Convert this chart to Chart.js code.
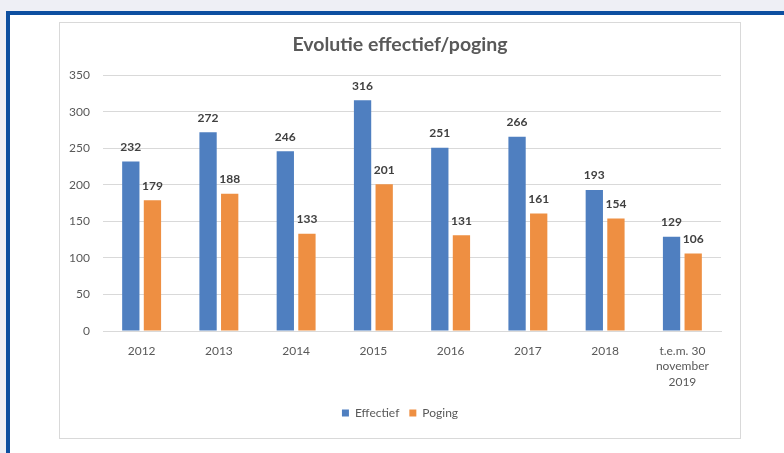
<!DOCTYPE html>
<html>
<head>
<meta charset="utf-8">
<script src="https://cdn.jsdelivr.net/npm/chart.js@4"></script>
<style>
  html, body { margin:0; padding:0; }
  body { width:784px; height:453px; background:#eeeff5; position:relative; overflow:hidden; font-family:Lato, sans-serif; }
  #frame { position:absolute; left:6px; top:11px; right:-10px; bottom:-10px; background:#fff;
           border-top:4px solid #0d4fa0; border-left:4px solid #0d4fa0; }
  #box { position:absolute; left:59px; top:22px; width:680px; height:415px; border:1px solid #d9d9d9; background:#fff; }
  #chart { display:block; }
</style>
</head>
<body>
<div id="frame"></div>
<div id="box"><canvas id="chart" width="680" height="415"></canvas></div>
<script>
const categories = ['2012','2013','2014','2015','2016','2017','2018',['t.e.m. 30','november','2019']];
const effectief = [232, 272, 246, 316, 251, 266, 193, 129];
const poging = [179, 188, 133, 201, 131, 161, 154, 106];
const seriesNames = ['Effectief', 'Poging'];
const yTicks = { min: 0, max: 350, step: 50 };

const FONT = 'Lato, "Open Sans", sans-serif';

// value labels above each bar
const barValues = {
  id: 'barValues',
  afterDatasetsDraw(chart){
    const ctx = chart.ctx;
    ctx.save();
    ctx.font = 'bold 12px ' + FONT;
    ctx.fillStyle = '#404040';
    ctx.textAlign = 'center';
    ctx.textBaseline = 'middle';
    chart.data.datasets.forEach((ds, i) => {
      chart.getDatasetMeta(i).data.forEach((bar, j) => {
        ctx.fillText(String(ds.data[j]), bar.x, bar.y - 14.5);
      });
    });
    ctx.restore();
  }
};

new Chart(document.getElementById('chart').getContext('2d'), {
  type: 'bar',
  data: {
    labels: categories,
    datasets: [
      { label: seriesNames[0], data: effectief, backgroundColor: '#4f7fc0' },
      { label: seriesNames[1], data: poging, backgroundColor: '#ee8f42' }
    ]
  },
  options: {
    responsive: false,
    animation: false,
    categoryPercentage: 0.56,
    barPercentage: 0.8,
    layout: { padding: { left: 0, right: 0, top: 0, bottom: 9 } },
    scales: {
      x: {
        grid: { display: false, drawTicks: false },
        border: { display: true, color: '#d9d9d9' },
        ticks: { color: '#595959', font: { family: FONT, size: 12, lineHeight: 1.3 }, padding: 12, maxRotation: 0, autoSkip: false },
        afterFit(scale){ scale.height = 66; }
      },
      y: {
        min: yTicks.min, max: yTicks.max,
        grid: { color: '#d9d9d9', drawTicks: false },
        border: { display: false },
        ticks: { stepSize: yTicks.step, color: '#595959', font: { family: FONT, size: 12 }, padding: 13 },
        afterFit(scale){ scale.width = 43; }
      },
      // empty right gutter so title and legend stay centred on the box
      gutter: {
        type: 'linear', position: 'right',
        grid: { display: false, drawTicks: false },
        border: { display: false },
        ticks: { display: false },
        afterFit(scale){ scale.width = 19; }
      }
    },
    plugins: {
      title: {
        display: true,
        text: 'Evolutie effectief/poging',
        color: '#595959',
        font: { family: FONT, size: 19.5, weight: 'bold' },
        padding: { top: 10, bottom: 19 }
      },
      legend: {
        position: 'bottom',
        labels: { boxWidth: 7, boxHeight: 7, color: '#595959', font: { family: FONT, size: 12 }, padding: 10 }
      },
      tooltip: { enabled: false }
    }
  },
  plugins: [barValues]
});
</script>
</body>
</html>
